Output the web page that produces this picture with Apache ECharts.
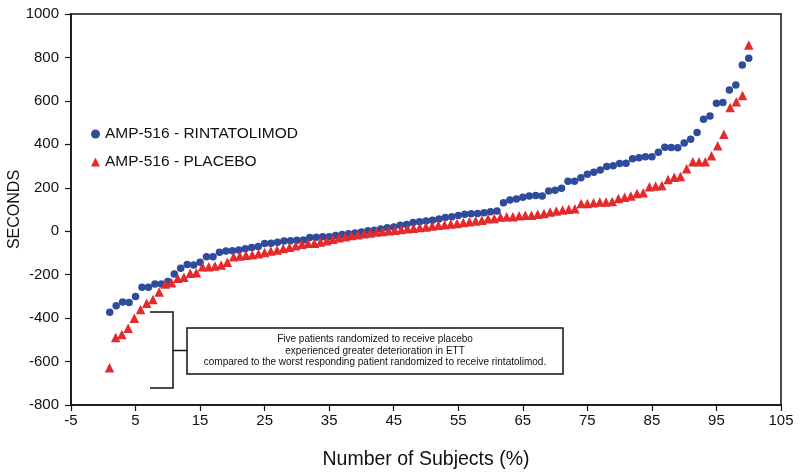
<!DOCTYPE html>
<html>
<head>
<meta charset="utf-8">
<script src="https://cdn.jsdelivr.net/npm/echarts@6/dist/echarts.min.js"></script>
<style>
html,body{margin:0;padding:0;background:#fff;}
#chart{width:800px;height:472px;}
</style>
</head>
<body>
<div id="chart"></div>
<script>
// Sorted change in ETT duration (seconds), one value per subject, ordered worst to best
var rintatolimodValues = [
  -373, -343, -326, -328, -300, -258, -258, -243, -243, -232,
  -197, -171, -153, -156, -143, -117, -117, -97, -91, -90,
  -86, -81, -75, -70, -56, -55, -51, -45, -44, -41,
  -40, -29, -28, -26, -26, -20, -15, -12, -8, -4,
  2, 5, 10, 16, 20, 28, 31, 40, 44, 47,
  51, 56, 63, 67, 72, 78, 80, 82, 85, 90,
  93, 131, 144, 148, 156, 162, 165, 162, 185, 189,
  198, 230, 230, 246, 262, 272, 282, 298, 301, 312,
  313, 334, 338, 343, 343, 364, 387, 385, 384, 406,
  423, 454, 516, 531, 589, 593, 650, 673, 765, 796
];
var placeboValues = [
  -628, -489, -475, -447, -401, -360, -332, -314, -280, -243,
  -237, -217, -212, -194, -191, -163, -163, -160, -155, -143,
  -117, -114, -111, -108, -104, -98, -91, -87, -79, -74,
  -67, -60, -55, -55, -50, -44, -37, -30, -25, -20,
  -16, -12, -8, -4, -1, 2, 5, 8, 11, 14,
  17, 20, 24, 27, 30, 33, 36, 40, 44, 47,
  51, 57, 59, 65, 67, 67, 71, 74, 74, 78,
  82, 88, 93, 98, 101, 104, 128, 128, 131, 134,
  134, 137, 151, 156, 162, 174, 177, 205, 208, 210,
  238, 248, 252, 288, 320, 320, 320, 347, 393, 446,
  570, 596, 625, 857
];
var seriesNames = ['AMP-516 - RINTATOLIMOD', 'AMP-516 - PLACEBO'];
var xTicks = { min: -5, max: 105, step: 10 };
var yTicks = { min: -800, max: 1000, step: 200 };
var noteLines = [
  'Five patients randomized to receive placebo',
  'experienced greater deterioration in ETT',
  'compared to the worst responding patient randomized to receive rintatolimod.'
];

// percent of subjects (rank / group size)
function toPoints(vals) {
  var n = vals.length;
  return vals.map(function (v, i) { return [(i + 1) * 100 / n, v]; });
}

var FONT = '"Liberation Sans", Arial, sans-serif';
var chart = echarts.init(document.getElementById('chart'), null, { renderer: 'canvas' });
chart.setOption({
  animation: false,
  backgroundColor: '#ffffff',
  grid: { left: 71, right: 19, top: 14, bottom: 67, containLabel: false, outerBoundsMode: 'none', show: true, borderColor: '#111', borderWidth: 1.5, backgroundColor: 'transparent' },
  xAxis: {
    type: 'value', min: xTicks.min, max: xTicks.max, interval: xTicks.step,
    name: 'Number of Subjects (%)', nameLocation: 'middle', nameGap: 45, nameMoveOverlap: false,
    nameTextStyle: { fontFamily: FONT, fontSize: 19.5, color: '#111' },
    axisLine: { show: true, onZero: false, lineStyle: { color: '#111', width: 1.5 } },
    axisTick: { show: true, inside: false, length: 6, lineStyle: { color: '#111', width: 1.2 } },
    axisLabel: { fontFamily: FONT, fontSize: 15, color: '#111', margin: 8, formatter: function (v) { return String(v); } },
    splitLine: { show: false }
  },
  yAxis: {
    type: 'value', min: yTicks.min, max: yTicks.max, interval: yTicks.step,
    name: 'SECONDS', nameLocation: 'middle', nameGap: 48, nameRotate: 90, nameMoveOverlap: false,
    nameTextStyle: { fontFamily: FONT, fontSize: 16, color: '#111' },
    axisLine: { show: true, onZero: false, lineStyle: { color: '#111', width: 1.5 } },
    axisTick: { show: true, inside: false, length: 6, lineStyle: { color: '#111', width: 1.2 } },
    axisLabel: { fontFamily: FONT, fontSize: 15, color: '#111', margin: 12, formatter: function (v) { return String(v); } },
    splitLine: { show: false }
  },
  legend: {
    left: 86, top: 121, orient: 'vertical', itemGap: 12,
    itemWidth: 9, itemHeight: 9,
    textStyle: { fontFamily: FONT, fontSize: 15.5, color: '#111' },
    data: [
      { name: seriesNames[0], icon: 'circle' },
      { name: seriesNames[1], icon: 'triangle' }
    ]
  },
  series: [
    {
      name: seriesNames[0], type: 'scatter', symbol: 'circle', symbolSize: 7.5,
      itemStyle: { color: '#2f4b9c', opacity: 1 },
      data: toPoints(rintatolimodValues), z: 2
    },
    {
      name: seriesNames[1], type: 'scatter', symbol: 'triangle', symbolSize: 9.5,
      itemStyle: { color: '#e42a2c', opacity: 1 },
      data: toPoints(placeboValues), z: 3
    }
  ],
  graphic: [
    { type: 'polyline', shape: { points: [[150, 312], [173, 312], [173, 388], [150, 388]] }, style: { stroke: '#111', lineWidth: 1.5, fill: null } },
    { type: 'line', shape: { x1: 173, y1: 350.5, x2: 187, y2: 350.5 }, style: { stroke: '#111', lineWidth: 1.5 } },
    { type: 'rect', shape: { x: 187, y: 328, width: 376, height: 46 }, style: { stroke: '#111', lineWidth: 1.5, fill: '#fff' } },
    { type: 'text', x: 375, y: 351, style: { text: noteLines.join('\n'), fontFamily: FONT, fontSize: 10, lineHeight: 11.5, fill: '#111', align: 'center', verticalAlign: 'middle' } }
  ]
});
</script>
</body>
</html>
